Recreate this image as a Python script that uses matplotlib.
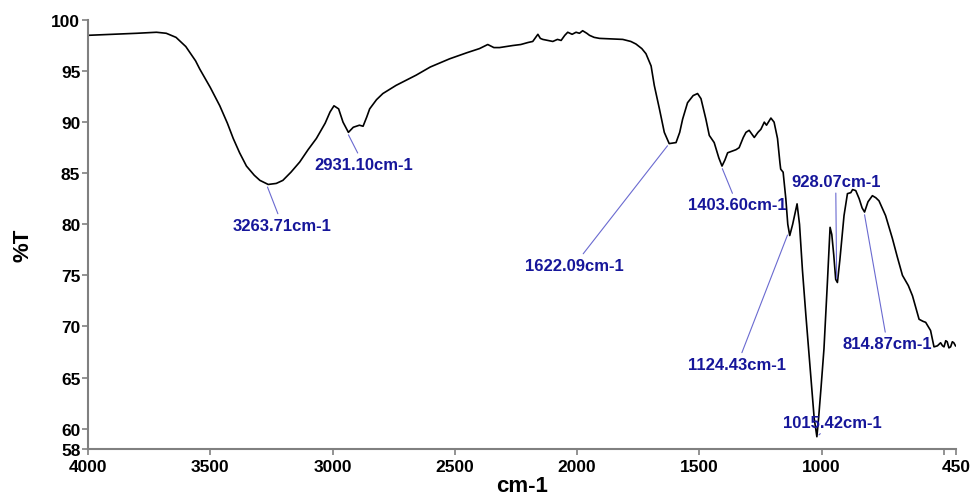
import numpy as np
import matplotlib.pyplot as plt

plt.rcParams['font.family'] = ['Liberation Sans', 'DejaVu Sans']

# FTIR spectrum: wavenumber (cm-1) and %T
wavenumber = [4000, 3900, 3800, 3720, 3680, 3640, 3600, 3560, 3543, 3500,
              3461, 3430, 3406, 3380, 3352, 3320, 3297, 3263, 3230, 3203,
              3170, 3134, 3100, 3066, 3030, 3010, 2994, 2975, 2957, 2935,
              2915, 2890, 2875, 2860, 2848, 2820, 2794, 2740, 2658, 2600,
              2521, 2450, 2399, 2365, 2340, 2317, 2290, 2263, 2230, 2200,
              2181, 2160, 2150, 2140, 2099, 2080, 2065, 2050, 2038, 2020,
              2004, 1990, 1977, 1960, 1949, 1930, 1908, 1860, 1813, 1780,
              1759, 1735, 1718, 1697, 1684, 1663, 1643, 1623, 1595, 1580,
              1568, 1548, 1525, 1507, 1493, 1473, 1459, 1439, 1420, 1407,
              1395, 1384, 1350, 1337, 1320, 1309, 1296, 1275, 1260, 1248,
              1234, 1225, 1207, 1194, 1180, 1170, 1167, 1157, 1146, 1138,
              1130, 1118, 1100, 1090, 1078, 1064, 1045, 1030, 1019, 1012,
              1002, 990, 976, 965, 958, 950, 942, 935, 925, 908,
              894, 880, 873, 860, 846, 834, 824, 810, 792, 778,
              765, 738, 710, 690, 669, 645, 628, 601, 585, 574,
              554, 540, 526, 513, 505, 499, 492, 486, 479, 472,
              465, 459, 452]
transmittance = [98.5, 98.6, 98.7, 98.8, 98.7, 98.3, 97.4, 96.0, 95.2, 93.4,
                 91.6, 89.9, 88.4, 87.0, 85.7, 84.8, 84.3, 83.9, 84.0, 84.3,
                 85.1, 86.1, 87.3, 88.4, 89.9, 91.0, 91.6, 91.3, 90.0, 89.0,
                 89.5, 89.7, 89.6, 90.5, 91.3, 92.2, 92.8, 93.6, 94.6, 95.4,
                 96.2, 96.8, 97.2, 97.6, 97.3, 97.3, 97.4, 97.5, 97.6, 97.8,
                 97.9, 98.6, 98.2, 98.1, 97.9, 98.1, 98.0, 98.5, 98.8, 98.6,
                 98.8, 98.7, 98.95, 98.7, 98.5, 98.3, 98.2, 98.15, 98.1, 97.9,
                 97.65, 97.2, 96.7, 95.5, 93.6, 91.3, 89.0, 87.9, 88.0, 89.0,
                 90.3, 91.9, 92.6, 92.8, 92.3, 90.3, 88.7, 88.0, 86.5, 85.7,
                 86.3, 87.0, 87.3, 87.5, 88.5, 89.0, 89.2, 88.5, 89.0, 89.3,
                 90.0, 89.7, 90.4, 90.0, 88.4, 86.0, 85.4, 85.1, 82.5, 80.0,
                 78.9, 80.0, 82.0, 80.0, 75.5, 71.1, 65.5, 61.0, 59.2, 61.0,
                 64.0, 67.8, 74.3, 79.7, 79.0, 77.0, 74.6, 74.3, 76.5, 80.85,
                 83.0, 83.1, 83.4, 83.3, 82.5, 81.6, 81.2, 82.2, 82.8, 82.6,
                 82.3, 80.85, 78.6, 76.8, 75.0, 74.0, 73.0, 70.7, 70.5, 70.4,
                 69.6, 68.0, 68.1, 68.4, 68.1, 68.0, 68.6, 68.5, 67.9, 68.0,
                 68.5, 68.4, 68.1]

# labelled peaks
peak_labels = ['3263.71cm-1', '2931.10cm-1', '1622.09cm-1', '1403.60cm-1',
               '1124.43cm-1', '1015.42cm-1', '928.07cm-1', '814.87cm-1']
peak_wn = [3270, 2940, 1623, 1410, 1135, 1019, 938, 826]
peak_T = [83.9, 89.0, 87.9, 85.7, 79.2, 59.2, 74.4, 81.2]
# where each label sits (wavenumber, %T of text centre)
label_pos = [(3205, 79.9), (2873, 85.85), (2011, 76.0), (1345, 81.9),
             (1344, 66.3), (954, 60.6), (942, 84.2), (731, 68.3)]

fig = plt.figure(figsize=(9.73, 5.02), dpi=100)
ax = fig.add_axes([88 / 973, 1 - 450 / 502, (956 - 88) / 973, (450 - 21) / 502])

ax.plot(wavenumber, transmittance, color='black', lw=1.2)

for lab, wn, t, pos in zip(peak_labels, peak_wn, peak_T, label_pos):
    ax.annotate(lab, xy=(wn, t), xytext=pos, ha='center', va='center',
                fontsize=12, fontweight='bold', color='#16169a',
                arrowprops=dict(arrowstyle='-', color='#6a6ad0', lw=0.8,
                                shrinkA=1, shrinkB=2))

ax.set_xlim(4000, 450)
ax.set_ylim(58, 100)
xt = [4000, 3500, 3000, 2500, 2000, 1500, 1000, 500, 450]
ax.set_xticks(xt)
ax.set_xticklabels([str(v) if v != 500 else '' for v in xt])
ax.set_yticks([58, 60, 65, 70, 75, 80, 85, 90, 95, 100])

for s in ['top', 'right']:
    ax.spines[s].set_visible(False)
for s in ['left', 'bottom']:
    ax.spines[s].set_color('#808080')
    ax.spines[s].set_linewidth(1.5)
ax.tick_params(axis='both', colors='#808080', labelcolor='black', labelsize=12.5,
               length=4.5, width=1.2)
ax.tick_params(axis='y', pad=1)
ax.tick_params(axis='x', pad=3)
for lbl in ax.get_xticklabels() + ax.get_yticklabels():
    lbl.set_fontweight('bold')

ax.set_xlabel('cm-1', fontsize=16, fontweight='bold')
ax.xaxis.set_label_coords(0.5, -0.086)
ax.xaxis.label.set_verticalalignment('center')
ax.set_ylabel('%T', fontsize=16, fontweight='bold')
ax.yaxis.set_label_coords(-0.075, 0.478)
ax.yaxis.label.set_verticalalignment('center')

fig.savefig('out.png', dpi=100)
